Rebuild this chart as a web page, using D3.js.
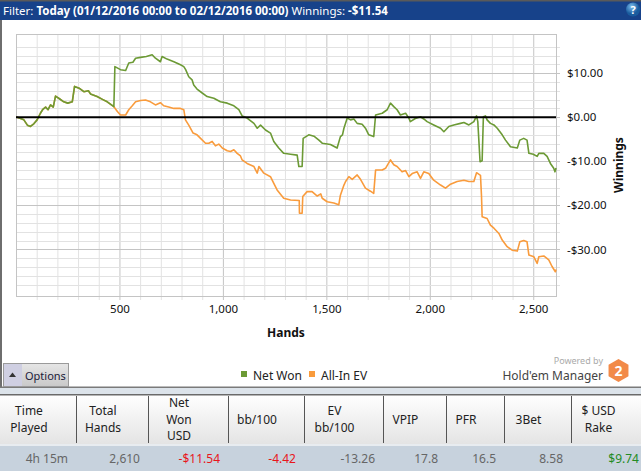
<!DOCTYPE html>
<meta charset="utf-8">
<style>
body { margin: 0; background: #fff; }
svg { display: block; font-family: "Noto Sans", "Open Sans", sans-serif; }
</style>
<body>
<script src="https://d3js.org/d3.v7.min.js"></script>
<script>

// ---- data: [hands, winnings $] ----
// both series are the same until the first all-in at ~478 hands
var sharedStart = [[0, 0], [6, 0], [38, -0.6], [55, -1.8], [70, -2.1], [86, -1.5], [102, -0.6],
  [118, 0.9], [130, 1.8], [143, 2.3], [155, 1.7], [167, 2.8], [180, 2.3], [191, 4.8], [210, 4.2],
  [231, 3.5], [250, 3.2], [272, 3.5], [283, 7.0], [305, 6.6], [328, 5.8], [350, 6.0], [360, 5.3],
  [392, 4.7], [420, 4.0], [441, 3.5], [473, 2.4]];

var netWon = sharedStart.concat([[478, 11.5], [505, 10.8], [530, 10.6], [545, 12.3], [565, 12.5],
  [578, 13.4], [602, 13.6], [630, 13.8], [658, 14.2], [674, 13.4], [698, 12.6], [706, 13.8],
  [730, 13.2], [763, 12.6], [795, 11.9], [811, 11.5], [820, 10.8], [835, 9.2], [851, 8.5],
  [859, 7.3], [875, 6.4], [900, 5.5], [924, 4.7], [956, 4.3], [988, 3.5], [1021, 3.2],
  [1053, 2.6], [1077, 1.7], [1093, 0.3], [1117, -0.2], [1150, -1.4], [1166, -2.5], [1182, -1.8],
  [1206, -2.9], [1230, -3.6], [1246, -5.5], [1270, -7.0], [1294, -8.2], [1327, -8.4],
  [1359, -8.6], [1367, -11.2], [1383, -11.2], [1388, -4.8], [1415, -4.0], [1440, -4.3],
  [1464, -5.2], [1480, -5.9], [1520, -6.2], [1552, -7.0], [1568, -4.4], [1578, -4.0],
  [1585, -2.5], [1601, -0.2], [1617, -0.6], [1633, -0.4], [1649, -1.4], [1673, -1.6],
  [1689, -2.5], [1705, -4.0], [1729, -4.4], [1738, 0.5], [1770, 0.9], [1794, 1.7], [1810, 3.2],
  [1826, 2.4], [1842, 1.7], [1858, 0.5], [1883, 0.9], [1899, -0.2], [1906, -1.0], [1930, -0.3],
  [1955, 0.1], [1971, -0.4], [1987, -1.0], [2019, -1.75], [2052, -2.5], [2068, -3.3],
  [2092, -2.1], [2116, -1.75], [2148, -1.4], [2165, -1.2], [2189, -1.75], [2213, -1.0],
  [2226, 0.3], [2232, -1.0], [2243, -10.1], [2253, -9.9], [2259, 0.1], [2269, 0.3], [2277, -0.6],
  [2293, -1.4], [2310, -1.75], [2326, -2.5], [2350, -4.0], [2366, -5.2], [2390, -6.7],
  [2423, -7.0], [2435, -5.2], [2454, -4.8], [2470, -5.2], [2479, -8.2], [2500, -8.4],
  [2519, -8.9], [2527, -8.2], [2551, -8.2], [2567, -8.9], [2583, -10.5], [2599, -11.6],
  [2605, -12.4], [2610, -11.54]]);

var allInEV = sharedStart.concat([[490, 1.3], [505, 0.5], [530, 0.5], [545, 1.7], [562, 2.6],
  [578, 3.5], [602, 3.8], [626, 3.9], [650, 3.5], [674, 2.8], [698, 3.3], [714, 2.6], [738, 2.3],
  [763, 2.0], [795, 2.0], [811, 1.7], [819, -0.6], [835, -1.8], [856, -3.6], [875, -4.0],
  [892, -4.8], [916, -5.9], [932, -5.9], [948, -5.5], [964, -6.5], [980, -6.1], [997, -7.0],
  [1021, -7.6], [1037, -7.8], [1053, -7.4], [1069, -8.2], [1085, -8.8], [1093, -9.7],
  [1117, -10.5], [1150, -11.2], [1166, -12.7], [1174, -11.2], [1198, -12.7], [1230, -13.5],
  [1246, -15.0], [1262, -16.5], [1294, -18.4], [1327, -18.8], [1369, -18.9], [1370, -21.8],
  [1383, -21.8], [1386, -18.0], [1407, -16.9], [1431, -16.9], [1456, -17.9], [1473, -17.4],
  [1480, -18.4], [1504, -19.2], [1536, -19.5], [1560, -19.9], [1568, -17.7], [1585, -15.4],
  [1593, -14.6], [1609, -13.5], [1625, -14.1], [1649, -13.1], [1665, -14.1], [1689, -16.1],
  [1713, -16.8], [1729, -17.3], [1738, -12.0], [1770, -12.0], [1786, -11.6], [1810, -9.7],
  [1826, -10.8], [1842, -11.2], [1866, -12.4], [1883, -12.1], [1899, -13.5], [1915, -12.8],
  [1939, -12.4], [1955, -13.9], [1971, -12.4], [1995, -12.8], [2019, -14.3], [2052, -15.4],
  [2076, -16.1], [2100, -15.2], [2132, -14.6], [2165, -14.3], [2189, -14.6], [2213, -14.6],
  [2226, -12.6], [2245, -13.2], [2250, -18.0], [2253, -22.6], [2277, -23.0], [2293, -24.5],
  [2310, -25.2], [2334, -26.4], [2350, -27.9], [2374, -29.4], [2398, -30.2], [2423, -30.4],
  [2435, -28.3], [2454, -28.0], [2470, -28.3], [2479, -31.3], [2503, -31.7], [2519, -33.2],
  [2527, -31.7], [2551, -31.5], [2575, -32.4], [2591, -33.9], [2607, -35.1], [2610, -34.6]]);

var xTickLabels = [500, 1000, 1500, 2000, 2500];
var yTickLabels = [10, 0, -10, -20, -30];

var legendNames = ["Net Won", "All-In EV"];
var legendColors = ["#6c9a35", "#f99b3c"];

var tableHeaders = [["Time", "Played"], ["Total", "Hands"], ["Net", "Won", "USD"], ["bb/100"],
  ["EV", "bb/100"], ["VPIP"], ["PFR"], ["3Bet"], ["$ USD", "Rake"]];
var tableValues = ["4h 15m", "2,610", "-$11.54", "-4.42", "-13.26", "17.8", "16.5", "8.58", "$9.74"];
var tableColors = ["#666", "#666", "#e8161b", "#e8161b", "#666", "#666", "#666", "#666", "#238b23"];
var colEdges = [0, 76, 148, 228, 304, 383, 446, 504, 571, 644];

// ---- layout ----
var W = 641, H = 471;
var plot = {left: 16, right: 556, top: 34, bottom: 296};

var svg = d3.select("body").append("svg")
    .attr("width", W)
    .attr("height", H);

var defs = svg.append("defs");
var g1 = defs.append("linearGradient").attr("id", "hdr").attr("x1", 0).attr("x2", 0).attr("y1", 0).attr("y2", 1);
g1.append("stop").attr("offset", "0%").attr("stop-color", "#ffffff");
g1.append("stop").attr("offset", "100%").attr("stop-color", "#e4e4e4");
var g2 = defs.append("linearGradient").attr("id", "btn").attr("x1", 0).attr("x2", 0).attr("y1", 0).attr("y2", 1);
g2.append("stop").attr("offset", "0%").attr("stop-color", "#e6e6e6");
g2.append("stop").attr("offset", "100%").attr("stop-color", "#c9c9c9");
var g3 = defs.append("radialGradient").attr("id", "help").attr("cx", "40%").attr("cy", "30%");
g3.append("stop").attr("offset", "0%").attr("stop-color", "#7fc0f0");
g3.append("stop").attr("offset", "100%").attr("stop-color", "#1a5c9e");

// title bar
svg.append("rect").attr("x", 0).attr("y", 0).attr("width", W).attr("height", 20).attr("fill", "#17428a");
svg.append("rect").attr("x", 0).attr("y", 0).attr("width", W).attr("height", 1.5).attr("fill", "#5a5a5a");
var title = svg.append("text").attr("x", 3).attr("y", 14.5)
    .attr("fill", "#fff").style("font-size", "11.5px");
title.append("tspan").text("Filter: ");
title.append("tspan").attr("font-weight", "bold").text("Today (01/12/2016 00:00 to 02/12/2016 00:00)");
title.append("tspan").text(" Winnings: ");
title.append("tspan").attr("font-weight", "bold").text("-$11.54");

svg.append("circle").attr("cx", 633).attr("cy", 9.5).attr("r", 7).attr("fill", "url(#help)");
svg.append("text").attr("x", 633).attr("y", 13.5).attr("text-anchor", "middle")
    .attr("fill", "#fff").attr("font-weight", "bold").style("font-size", "11px").text("?");

// chart panel frame
svg.append("rect").attr("x", 0).attr("y", 20).attr("width", 2).attr("height", 368).attr("fill", "#6e6e6e");
svg.append("rect").attr("x", 0).attr("y", 386.5).attr("width", W).attr("height", 1.5).attr("fill", "#7a7a7a");

// scales
var x = d3.scaleLinear().domain([0, 2610]).range([plot.left, plot.right]);
var y = d3.scaleLinear().domain([-40.6, 18.9]).range([plot.bottom, plot.top]);

// grid
var xGrid = d3.range(100, 2600, 100);
var yGrid = d3.range(-38, 17, 2);

var grid = svg.append("g");
grid.selectAll("line.v").data(xGrid).enter().append("line")
    .attr("x1", d => x(d) + 0.5).attr("x2", d => x(d) + 0.5)
    .attr("y1", plot.top).attr("y2", plot.bottom + 4)
    .attr("stroke", d => d % 500 === 0 ? "#c4c4c4" : "#e2e2e2");
grid.selectAll("line.h").data(yGrid).enter().append("line")
    .attr("y1", d => Math.round(y(d)) + 0.5).attr("y2", d => Math.round(y(d)) + 0.5)
    .attr("x1", plot.left).attr("x2", plot.right + 4)
    .attr("stroke", d => d % 10 === 0 ? "#c4c4c4" : "#e2e2e2");
svg.append("rect")
    .attr("x", plot.left + 0.5).attr("y", plot.top + 0.5)
    .attr("width", plot.right - plot.left).attr("height", plot.bottom - plot.top)
    .attr("fill", "none").attr("stroke", "#c4c4c4");

// axes (labels only, ticks drawn by the grid)
var xAxis = svg.append("g")
    .attr("transform", "translate(0," + plot.bottom + ")")
    .call(d3.axisBottom(x).tickValues(xTickLabels).tickFormat(d3.format(",")).tickSize(0).tickPadding(9));
var yAxis = svg.append("g")
    .attr("transform", "translate(" + plot.right + ",0)")
    .call(d3.axisRight(y).tickValues(yTickLabels)
      .tickFormat(v => (v < 0 ? "-" : "") + "$" + Math.abs(v).toFixed(2))
      .tickSize(0).tickPadding(11));
[xAxis, yAxis].forEach(function(a) {
  a.select(".domain").remove();
  a.selectAll("text").attr("fill", "#111").style("font-size", "11.5px")
    .style("font-family", "\"Noto Sans\", sans-serif");
});

svg.append("text").attr("x", (plot.left + plot.right) / 2).attr("y", 337)
    .attr("text-anchor", "middle").attr("font-weight", "bold").style("font-size", "12px")
    .attr("fill", "#111").text("Hands");
svg.append("text")
    .attr("transform", "translate(623," + ((plot.top + plot.bottom) / 2) + ") rotate(-90)")
    .attr("text-anchor", "middle").attr("font-weight", "bold").style("font-size", "12px")
    .attr("fill", "#111").text("Winnings");

// series
var line = d3.line()
    .x(d => x(d[0]))
    .y(d => y(d[1]));

svg.append("path").datum(allInEV)
    .attr("d", line).attr("fill", "none")
    .attr("stroke", legendColors[1]).attr("stroke-width", 1.6).attr("stroke-linejoin", "round");
svg.append("path").datum(netWon)
    .attr("d", line).attr("fill", "none")
    .attr("stroke", legendColors[0]).attr("stroke-width", 1.6).attr("stroke-linejoin", "round");

// zero line
svg.append("line")
    .attr("x1", plot.left).attr("x2", plot.right)
    .attr("y1", y(0)).attr("y2", y(0))
    .attr("stroke", "#000").attr("stroke-width", 2);

// options button
svg.append("rect").attr("x", 3.5).attr("y", 363.5).attr("width", 65).attr("height", 23)
    .attr("fill", "url(#btn)").attr("stroke", "#9a9a9a");
svg.append("rect").attr("x", 4).attr("y", 364).attr("width", 18).attr("height", 22).attr("fill", "#cfcfe2");
svg.append("path").attr("d", "M9,377 L12.5,372.5 L16,377 Z").attr("fill", "#333");
svg.append("text").attr("x", 25).attr("y", 380).attr("fill", "#1b1b3a")
    .style("font-size", "11px").text("Options");

// legend
var legend = svg.append("g").selectAll("g").data(legendNames).enter().append("g")
    .attr("transform", (d, i) => "translate(" + [241, 309][i] + ",0)");
legend.append("rect").attr("x", 0).attr("y", 371).attr("width", 6).attr("height", 6)
    .attr("fill", (d, i) => legendColors[i]);
legend.append("text").attr("x", 12).attr("y", 380).attr("fill", "#222")
    .style("font-size", "12px").text(d => d);

// powered by logo
svg.append("text").attr("x", 603).attr("y", 364).attr("text-anchor", "end")
    .attr("fill", "#aaa").style("font-size", "9px").text("Powered by");
svg.append("text").attr("x", 603).attr("y", 380).attr("text-anchor", "end")
    .attr("fill", "#444").style("font-size", "12px").text("Hold'em Manager");
var hex = d3.range(6).map(function(i) {
  var a = Math.PI / 3 * i - Math.PI / 2;
  return [618.5 + 11.5 * Math.cos(a), 370.5 + 11.5 * Math.sin(a)];
});
svg.append("path").attr("d", "M" + hex.join("L") + "Z").attr("fill", "#f28a48");
svg.append("text").attr("x", 618.5).attr("y", 375.5).attr("text-anchor", "middle")
    .attr("fill", "#fff").attr("font-weight", "bold").style("font-size", "14px").text("2");

// stats table
svg.append("rect").attr("x", 0).attr("y", 388).attr("width", W).attr("height", 7).attr("fill", "#dce3ea");
svg.append("rect").attr("x", 0).attr("y", 394).attr("width", W).attr("height", 50).attr("fill", "url(#hdr)");
svg.append("rect").attr("x", 0).attr("y", 394).attr("width", W).attr("height", 1.5).attr("fill", "#6a6a6a");
svg.append("rect").attr("x", 0).attr("y", 444).attr("width", W).attr("height", 2).attr("fill", "#e8ecf0");
svg.append("rect").attr("x", 0).attr("y", 446).attr("width", W).attr("height", 25).attr("fill", "#c7d2dd");

var cols = svg.append("g").selectAll("g").data(tableHeaders).enter().append("g");
cols.filter((d, i) => i > 0).append("line")
    .attr("x1", (d, i) => colEdges[i + 1] + 0.5).attr("x2", (d, i) => colEdges[i + 1] + 0.5)
    .attr("y1", 396).attr("y2", 443).attr("stroke", "#555");
cols.each(function(lines, i) {
  var cx = (colEdges[i] + colEdges[i + 1]) / 2 - 9;
  var t = d3.select(this).append("text").attr("text-anchor", "middle")
      .attr("fill", "#222").style("font-size", "12px");
  var y0 = 423.5 - (lines.length - 1) * 8.3;
  lines.forEach(function(s, k) {
    t.append("tspan").attr("x", cx).attr("y", y0 + k * 16.6).text(s);
  });
  d3.select(this).append("text")
      .attr("x", colEdges[i + 1] - (i === 8 ? 5 : 8)).attr("y", 462.5)
      .attr("text-anchor", "end").attr("fill", tableColors[i])
      .style("font-size", "12px").text(tableValues[i]);
});

</script>
</body>
</html>
